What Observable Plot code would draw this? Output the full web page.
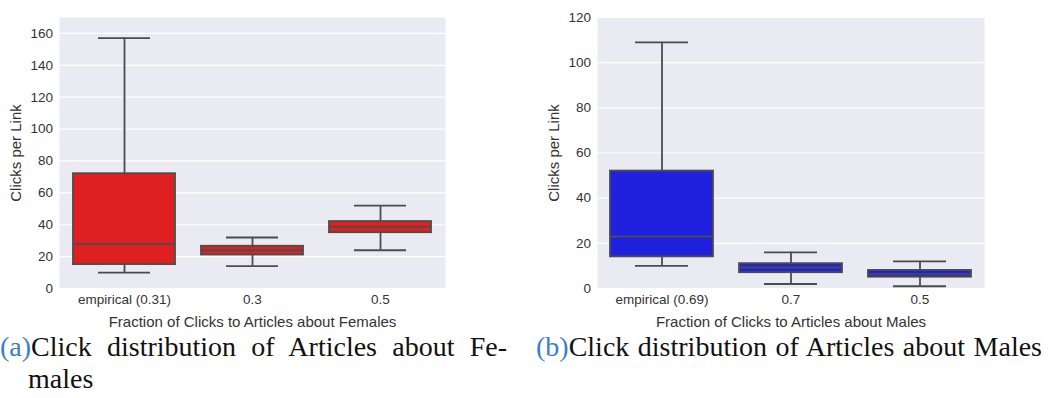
<!DOCTYPE html>
<html>
<head>
<meta charset="utf-8">
<script src="https://cdn.jsdelivr.net/npm/d3@7"></script>
<script src="https://cdn.jsdelivr.net/npm/@observablehq/plot@0.6"></script>
<style>
  html, body { margin: 0; padding: 0; background: #fff; }
  #page { position: relative; width: 1049px; height: 398px; overflow: hidden; background: #fff; }
  .panel { position: absolute; top: 0; }
  .panel svg g[aria-label$="axis label"] { font-size: 15px; }
  .cap {
    position: absolute; white-space: nowrap;
    font-family: "Liberation Serif", "DejaVu Serif", serif;
    font-size: 28px; line-height: 28px; color: #111;
    text-align: justify; text-align-last: justify;
  }
  .cap .tag { color: #3b7dcc; }
</style>
</head>
<body>
<div id="page">
  <div id="left" class="panel" style="left:0px"></div>
  <div id="right" class="panel" style="left:524px"></div>
  <div class="cap" style="left:0px; top:333px; width:507px"><span class="tag">(a)</span>Click distribution of Articles about Fe-</div>
  <div class="cap" style="left:28px; top:365px; text-align-last:auto">males</div>
  <div class="cap" style="left:536px; top:333px; width:506px"><span class="tag">(b)</span>Click distribution of Articles about Males</div>
</div>
<script>
// Box summaries (whisker low, Q1, median, Q3, whisker high) of clicks per link
const femaleCategories = ["empirical (0.31)", "0.3", "0.5"];
const femaleLow    = [10, 14, 24];
const femaleQ1     = [15, 21, 35];
const femaleMedian = [28, 24, 38.7];
const femaleQ3     = [72, 26.5, 42];
const femaleHigh   = [157, 32, 52];
const femaleTicks  = [0, 20, 40, 60, 80, 100, 120, 140, 160];

const maleCategories = ["empirical (0.69)", "0.7", "0.5"];
const maleLow    = [10, 2, 1];
const maleQ1     = [14, 7, 5];
const maleMedian = [23, 9.3, 6.4];
const maleQ3     = [52, 11, 8];
const maleHigh   = [109, 16, 12];
const maleTicks  = [0, 20, 40, 60, 80, 100, 120];

function boxRows(categories, low, q1, median, q3, high) {
  return categories.map((category, i) => ({
    category, low: low[i], q1: q1[i], median: median[i], q3: q3[i], high: high[i]
  }));
}

function boxChart({rows, color, yMax, yTicks, xLabel, marginLeft, marginRight}) {
  const line = "#4c4c4c";
  const lw = 1.8;
  const boxInset = 13;
  const capInset = 38;
  return Plot.plot({
    width: 525,
    height: 330,
    marginTop: 17,
    marginBottom: 42,
    marginLeft,
    marginRight,
    style: {
      fontFamily: "'Liberation Sans', Arial, sans-serif",
      fontSize: "13.5px",
      color: "#333",
      background: "transparent",
      overflow: "visible"
    },
    x: {type: "band", domain: rows.map(d => d.category), padding: 0},
    y: {domain: [0, yMax]},
    marks: [
      Plot.frame({fill: "#eaeaf2", stroke: "none"}),
      Plot.gridY(yTicks, {stroke: "white", strokeOpacity: 1, strokeWidth: 1.2}),
      Plot.ruleX(rows, {x: "category", y1: "low", y2: "q1", stroke: line, strokeWidth: lw}),
      Plot.ruleX(rows, {x: "category", y1: "q3", y2: "high", stroke: line, strokeWidth: lw}),
      Plot.tickY(rows, {x: "category", y: "low", insetLeft: capInset, insetRight: capInset, stroke: line, strokeWidth: lw}),
      Plot.tickY(rows, {x: "category", y: "high", insetLeft: capInset, insetRight: capInset, stroke: line, strokeWidth: lw}),
      Plot.barY(rows, {x: "category", y1: "q1", y2: "q3", fill: color, stroke: line, strokeWidth: lw, insetLeft: boxInset, insetRight: boxInset}),
      Plot.tickY(rows, {x: "category", y: "median", insetLeft: boxInset, insetRight: boxInset, stroke: line, strokeWidth: lw}),
      Plot.axisY(yTicks, {tickSize: 0, tickPadding: 6.5, label: "Clicks per Link", labelAnchor: "center", labelArrow: "none", labelOffset: 49}),
      Plot.axisX({tickSize: 0, tickPadding: 6, label: xLabel, labelAnchor: "center", labelOffset: 38})
    ]
  });
}

document.getElementById("left").append(boxChart({
  rows: boxRows(femaleCategories, femaleLow, femaleQ1, femaleMedian, femaleQ3, femaleHigh),
  color: "#df2020",
  yMax: 170,
  yTicks: femaleTicks,
  xLabel: "Fraction of Clicks to Articles about Females",
  marginLeft: 59,
  marginRight: 80
}));

document.getElementById("right").append(boxChart({
  rows: boxRows(maleCategories, maleLow, maleQ1, maleMedian, maleQ3, maleHigh),
  color: "#2020df",
  yMax: 120,
  yTicks: maleTicks,
  xLabel: "Fraction of Clicks to Articles about Males",
  marginLeft: 73,
  marginRight: 65
}));
</script>
</body>
</html>
